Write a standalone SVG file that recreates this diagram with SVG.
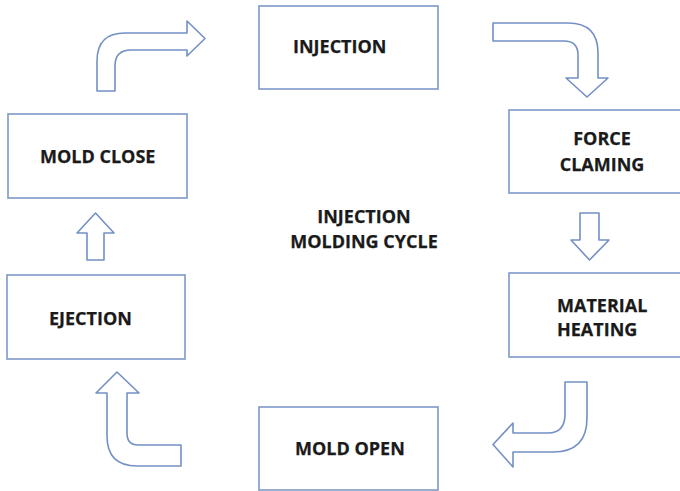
<svg xmlns="http://www.w3.org/2000/svg" width="680" height="491" viewBox="0 0 680 491">
  <style>
    .box { fill: #ffffff; stroke: #7e98c9; stroke-width: 1.6; }
    .arrow { fill: #ffffff; stroke: #7390c5; stroke-width: 1.6; stroke-linejoin: round; }
    .label { font-family: "Open Sans", "Liberation Sans", sans-serif; font-weight: bold; font-size: 18px; fill: #1a1a1a; stroke: #1a1a1a; stroke-width: 0.25; }
  </style>
  <rect width="680" height="491" fill="#ffffff"/>

  <!-- process steps -->
  <g id="injection">
    <rect class="box" x="259" y="6" width="179" height="83"/>
    <text class="label" x="293" y="53">INJECTION</text>
  </g>
  <g id="force-claming">
    <rect class="box" x="509" y="110" width="180" height="83"/>
    <text class="label" x="602" y="145" text-anchor="middle">FORCE</text>
    <text class="label" x="602" y="171" text-anchor="middle">CLAMING</text>
  </g>
  <g id="material-heating">
    <rect class="box" x="509" y="273" width="180" height="84"/>
    <text class="label" x="557" y="312">MATERIAL</text>
    <text class="label" x="557" y="336">HEATING</text>
  </g>
  <g id="mold-open">
    <rect class="box" x="259" y="407" width="179" height="83"/>
    <text class="label" x="295" y="455">MOLD OPEN</text>
  </g>
  <g id="ejection">
    <rect class="box" x="7" y="275" width="178" height="84"/>
    <text class="label" x="49" y="325">EJECTION</text>
  </g>
  <g id="mold-close">
    <rect class="box" x="8" y="114" width="179" height="84"/>
    <text class="label" x="40" y="163">MOLD CLOSE</text>
  </g>
  <g id="cycle-title">
    <text class="label" x="364" y="223" text-anchor="middle">INJECTION</text>
    <text class="label" x="364" y="248" text-anchor="middle">MOLDING CYCLE</text>
  </g>

  <!-- block arrows between steps -->
  <g id="connectors">
    <path class="arrow" d="M97,91 L97,61 Q97,33 125,33 L187,33 L187,21 L205,38.5 L187,56 L187,50 L131,50 Q115,50 115,66 L115,91 Z"/>
    <path class="arrow" d="M493,23 L568,23 Q598,23 598,53 L598,78 L608,78 L587,97 L566,78 L578,78 L578,55 Q578,41 564,41 L493,41 Z"/>
    <path class="arrow" d="M580,213 L599,213 L599,240 L609,240 L589.5,260 L571,240 L580,240 Z"/>
    <path class="arrow" d="M565,382 L587,382 L587,418 Q587,452 553,452 L513,452 L513,467 L493,444.5 L513,423 L513,433 L548,433 Q565,433 565,414 Z"/>
    <path class="arrow" d="M107,393 L107,436 Q107,466 137,466 L181,466 L181,445 L138,445 Q127,445 127,433 L127,393 L139,393 L117,372 L96,393 Z"/>
    <path class="arrow" d="M87,260 L104,260 L104,233 L114,233 L95.5,213 L77,233 L87,233 Z"/>
  </g>
</svg>
